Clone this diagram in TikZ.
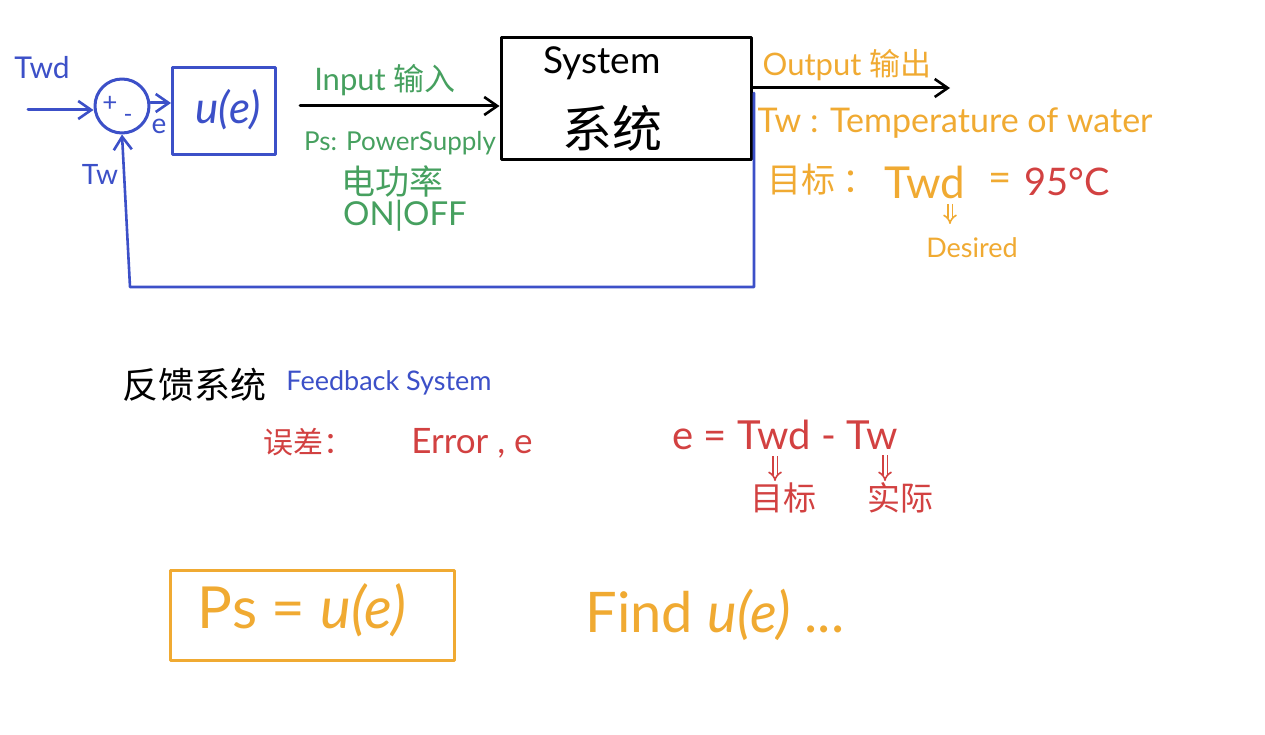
\documentclass[tikz,border=0pt]{standalone}
\usepackage{fontspec}
\setmainfont{Lato}
\newfontfamily\cjk{Noto Sans CJK SC}
\usetikzlibrary{arrows.meta}
\definecolor{pblue}{RGB}{60,80,200}
\definecolor{pgreen}{RGB}{70,160,95}
\definecolor{porange}{RGB}{240,170,50}
\definecolor{pred}{RGB}{210,65,65}
\newcommand{\fs}[1]{\fontsize{#1}{#1}\selectfont}
\begin{document}
\begin{tikzpicture}[x=1pt,y=-1pt,
  pen/.style={line width=3pt, line cap=round, line join=round},
  tip/.style={-{Straight Barb[length=13pt,width=18pt,line width=2.6pt]}},
  dtip/.style={line width=1.6pt, double distance=3pt, -{Implies[]}},
  lbl/.style={inner sep=0pt, anchor=center},
  blk/.style={pen, draw, rectangle, inner sep=0pt}]
\useasboundingbox[fill=white] (0,0) rectangle (1265,735);

% ---------------- block diagram ----------------
\node[pen, draw=pblue, circle, minimum size=54pt, inner sep=0pt] (sum) at (122,106) {};
\node[lbl, text=pblue] (plus) at (110,104) {\fs{26}+};
\node[lbl, text=pblue] (minus) at (128,118) {\fs{24}-};
\node[lbl, text=pblue] (twdl) at (42,68) {\fs{30}Twd};
\node[lbl, text=pblue] (twl) at (100,174) {\fs{28}Tw};
\node[lbl, text=pblue] (el) at (159,126) {\fs{28}e};
\node[blk, draw=pblue, minimum width=103pt, minimum height=87pt] (ue) at (224,111) {};
\node[lbl, text=pblue] (uet) at (228,110) {\fs{44}\itshape u(e)};

\coordinate (tin) at (28,110);
\draw[pen, pblue, tip] (tin) -- (sum.west |- tin);
\draw[pen, pblue, tip] (sum.east |- 0,103) -- (ue.west |- 0,103);

\node[blk, draw=black, minimum width=250pt, minimum height=122pt] (sys) at (626,99) {};
\node[lbl] (syst) at (602,63) {\fs{37}System};
\node[lbl] (sysc) at (612,128) {\cjk\fs{50}系统};

\coordinate (in0) at (300,106);
\draw[pen, black, tip] (in0) -- (sys.west |- in0);
\node[lbl, text=pgreen] (inl) at (385,80) {\fs{31}Input {\cjk 输入}};
\node[lbl, text=pgreen] (psl) at (400,143) {\fs{26}Ps: PowerSupply};
\node[lbl, text=pgreen] (dgl) at (392,181) {\cjk\fs{34}电功率};
\node[lbl, text=pgreen] (onl) at (405,216) {\fs{33}ON|OFF};

\coordinate (out1) at (950,88);
\draw[pen, black, tip] (sys.east |- out1) -- (out1);
\node[lbl, text=porange] (outl) at (847,65) {\fs{31}Output {\cjk 输出}};

\coordinate (fb) at (754,93);
\coordinate (fbc) at (130,287);
\draw[pen, pblue, line width=2.6pt, tip] (fb) |- (fbc) -- (sum.south);

% ---------------- notes right ----------------
\node[lbl, text=porange] (twdef) at (955,123) {\fs{34}Tw : Temperature of water};
\node[lbl, text=porange, anchor=west] (mb) at (767,180) {\cjk\fs{34}目标 ：};
\node[lbl, text=porange] (twd2) at (925,182) {\fs{44}Twd};
\node[lbl, text=porange] (eq2) at (1000,182) {\fs{40}=};
\node[lbl, text=pred] (t95) at (1067,182) {\fs{38}95°C};
\node[lbl, text=porange] (des) at (972,248) {\fs{27}Desired};
\draw[porange, dtip] (950,204) -- (950,224);

% ---------------- feedback system notes ----------------
\node[lbl] (fkc) at (194,385) {\cjk\fs{36}反馈系统};
\node[lbl, text=pblue] (fke) at (389,383) {\fs{27}Feedback System};
\node[lbl, text=pred] (wc) at (308,442) {\cjk\fs{30}误差：};
\node[lbl, text=pred] (err) at (472,443) {\fs{35}Error , e};
\node[lbl, text=pred] (eqe) at (785,435) {\fs{40}e = Twd - Tw};
\node[lbl, text=pred] (mb2) at (783,498) {\cjk\fs{33}目标};
\node[lbl, text=pred] (sj) at (900,498) {\cjk\fs{33}实际};
\draw[pred, dtip] (775,456) -- (775,481);
\draw[pred, dtip] (885,455) -- (885,481);

% ---------------- bottom ----------------
\node[blk, draw=porange, minimum width=284pt, minimum height=90pt] (psbox) at (312,615) {};
\node[lbl, text=porange] (pst) at (302,610) {\fs{58}Ps = {\itshape u(e)}};
\node[lbl, text=porange] (find) at (715,615) {\fs{56}Find {\itshape u(e)} ...};
\end{tikzpicture}
\end{document}
